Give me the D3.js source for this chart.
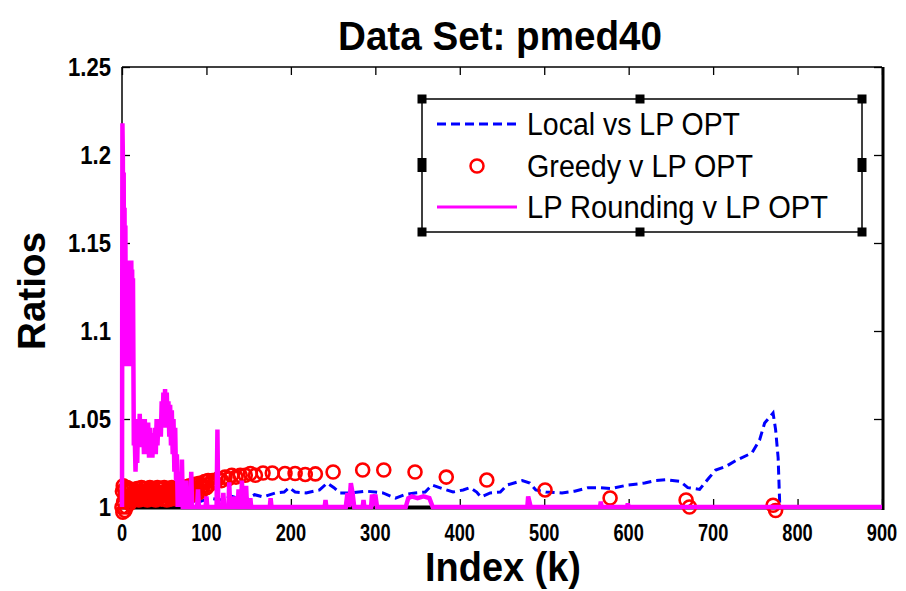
<!DOCTYPE html>
<html><head><meta charset="utf-8">
<script src="https://cdn.jsdelivr.net/npm/d3@7"></script>
<style>body{margin:0;background:#fff} svg{display:block} text{font-family:"Liberation Sans",Arial,sans-serif}</style>
</head><body><svg id="c" width="906" height="591"></svg>
<script>
// ---------- data ----------
const titleText = "Data Set: pmed40";
const xLabel = "Index (k)";
const yLabel = "Ratios";
const xTicks = [0,100,200,300,400,500,600,700,800,900];
const yTicks = [1,1.05,1.1,1.15,1.2,1.25];
const yTickLabels = ["1","1.05","1.1","1.15","1.2","1.25"];
const seriesNames = ["Local vs LP OPT","Greedy v LP OPT","LP Rounding v LP OPT"];

const localK = [0,9,27,45,69,92,104,118,130,146,
  157,167,182,192,198,205,218,234,243,251,
  258,270,289,309,324,335,347,359,367,376,
  392,404,412,420,425,436,448,456,474,483,
  490,502,521,536,552,566,580,599,619,632,
  645,661,670,684,695,703,715,728,746,755,
  761,771,774,777,779,900];
const localV = [1.0,1.006,1.004,1.005,1.004,1.003,1.005,1.004,1.006,1.004,
  1.007,1.0057,1.008,1.0085,1.011,1.0085,1.008,1.0097,1.0136,1.011,
  1.008,1.008,1.009,1.008,1.005,1.007,1.008,1.0085,1.0125,1.011,
  1.0085,1.0097,1.011,1.0085,1.0057,1.008,1.0085,1.0125,1.015,1.0136,
  1.0097,1.0085,1.008,1.009,1.011,1.011,1.0105,1.0125,1.0136,1.015,
  1.0155,1.0145,1.011,1.010,1.0165,1.021,1.023,1.0267,1.0307,1.038,
  1.0477,1.0534,1.044,1.028,1.0,1.0];

const greedyK = [0,0.5,1,1.5,2,3,3.5,4,5,6,
  7,8,9,10,11,12,13,14,15,16,
  17,18,19,20,21,22,23,24,25,26,
  27,28,29,30,31,32,33,34,35,36,
  37,38,39,40,41,42,43,44,45,46,
  47,48,49,50,51,52,53,54,55,56,
  57,58,59,60,61,62,63,64,65,66,
  67,68,69,70,71,72,73,74,75,76,
  77,78,79,80,81,82,83,84,85,86,
  87,88,89,90,92,94,96,98,100,102,
  104,107,110,114,118,122,126,130,135,140,
  146,152,158,167,178,193,205,217,229,250,
  285,310,347,384,432,501,578,668,672,771,
  774];
const greedyV = [1.0,1.009,0.997,1.012,1.003,1.010,0.998,1.006,1.0,1.011,
  1.004,1.009,1.002,1.007,1.010,1.004,1.008,1.005,1.009,1.006,
  1.005,1.0105,1.0075,1.004,1.009,1.006,1.011,1.0045,1.008,1.0065,
  1.0105,1.005,1.0085,1.004,1.0095,1.0065,1.011,1.005,1.008,1.0045,
  1.0105,1.0065,1.009,1.004,1.0075,1.011,1.005,1.0085,1.006,1.0105,
  1.0045,1.008,1.0065,1.011,1.005,1.009,1.004,1.0075,1.0105,1.006,
  1.0085,1.0045,1.011,1.0065,1.009,1.005,1.0105,1.0075,1.0045,1.009,
  1.0065,1.011,1.005,1.0085,1.007,1.0105,1.0055,1.009,1.007,1.0115,
  1.006,1.0095,1.0075,1.012,1.0065,1.010,1.008,1.0125,1.007,1.0105,
  1.0085,1.013,1.0075,1.011,1.0135,1.009,1.012,1.0145,1.011,1.015,
  1.013,1.015,1.014,1.016,1.015,1.017,1.016,1.018,1.017,1.018,
  1.018,1.019,1.018,1.0193,1.0193,1.019,1.019,1.0185,1.0188,1.0199,
  1.021,1.021,1.0199,1.017,1.0153,1.0097,1.0051,1.004,1.0,1.001,
  0.998];

const roundK = [0,0.5,1,1.5,2,2.5,3,3.5,4,4.5,
  5,5.5,6,6.5,7,7.5,8,8.5,9,9.5,
  10,10.5,11,11.5,12,12.5,13,14,15,16,
  17,18,19,20,21,22,23,24,25,26,
  27,28,29,30,31,32,33,34,35,36,
  37,38,39,40,41,42,43,44,45,46,
  47,48,49,50,51,52,53,54,55,56,
  57,58,59,60,61,62,63,64,65,66,
  67,68,69,70,71,72,75,76,77,81,
  82,83,89,90,91,99,100,101,112,113,
  114,119,120,121,126,127,128,132,133,134,
  137,138,139,141,142,143,146,147,148,151,
  152,153,175,176,177,240,241,242,265,267,
  269,271,273,275,285,286,287,295,296,298,
  300,302,336,339,343,350,357,364,368,480,
  481,484,566,567,568,598,599,600,900];
const roundV = [1.0,1.218,1.2,1.1,1.19,1.09,1.17,1.08,1.16,1.085,
  1.14,1.09,1.14,1.085,1.135,1.09,1.14,1.08,1.14,1.09,
  1.135,1.1,1.14,1.1,1.135,1.1,1.13,1.035,1.042,1.02,
  1.04,1.025,1.05,1.035,1.053,1.034,1.05,1.035,1.048,1.03,
  1.05,1.032,1.045,1.03,1.048,1.028,1.045,1.03,1.042,1.028,
  1.04,1.03,1.045,1.03,1.05,1.035,1.048,1.04,1.05,1.04,
  1.06,1.045,1.065,1.05,1.067,1.045,1.065,1.048,1.06,1.04,
  1.058,1.035,1.055,1.03,1.05,1.02,1.045,1.015,1.03,1.0,
  1.02,1.0,1.015,1.0,1.027,1.0,1.0,1.015,1.0,1.0,
  1.02,1.0,1.0,1.01,1.0,1.0,1.006,1.0,1.0,1.044,
  1.0,1.0,1.008,1.0,1.0,1.014,1.0,1.0,1.006,1.0,
  1.0,1.01,1.0,1.0,1.015,1.0,1.0,1.012,1.0,1.0,
  1.005,1.0,1.0,1.005,1.0,1.0,1.004,1.0,1.0,1.008,
  1.0,1.0136,1.008,1.0,1.0,1.004,1.0,1.0,1.007,1.004,
  1.007,1.0,1.0,1.005,1.006,1.005,1.006,1.005,1.0,1.0,
  1.006,1.0,1.0,1.003,1.0,1.0,1.002,1.0,1.0];

// ---------- layout ----------
const svg = d3.select("#c");
svg.append("rect").attr("width",906).attr("height",591).attr("fill","#fff");
const x = d3.scaleLinear().domain([0,900]).range([122,882]);
const y = d3.scaleLinear().domain([1,1.25]).range([507,67]);

function squeeze(sel, f){
  sel.each(function(){
    const w = this.getComputedTextLength();
    d3.select(this).attr("textLength", w*f).attr("lengthAdjust","spacingAndGlyphs");
  });
}

// axis box
const g = svg.append("g");
g.append("line").attr("x1",122).attr("x2",882).attr("y1",67).attr("y2",67).attr("stroke","#000").attr("stroke-width",1.5);
g.append("line").attr("x1",122).attr("x2",122).attr("y1",67).attr("y2",509).attr("stroke","#000").attr("stroke-width",1.5);
g.append("line").attr("x1",883).attr("x2",883).attr("y1",67).attr("y2",510).attr("stroke","#000").attr("stroke-width",3);
g.append("line").attr("x1",121).attr("x2",884).attr("y1",507.5).attr("y2",507.5).attr("stroke","#000").attr("stroke-width",4);

// ticks (inward) via d3 axes
const tl = 8;
const axB = g.append("g").attr("transform","translate(0,507)")
  .call(d3.axisTop(x).tickValues(xTicks).tickSize(tl).tickFormat(""));
const axT = g.append("g").attr("transform","translate(0,67)")
  .call(d3.axisBottom(x).tickValues(xTicks).tickSize(tl).tickFormat(""));
const axL = g.append("g").attr("transform","translate(122,0)")
  .call(d3.axisRight(y).tickValues(yTicks).tickSize(tl).tickFormat(""));
const axR = g.append("g").attr("transform","translate(882,0)")
  .call(d3.axisLeft(y).tickValues(yTicks).tickSize(tl).tickFormat(""));
[axB,axT,axL,axR].forEach(a=>{a.select(".domain").remove(); a.selectAll("line").attr("stroke","#000").attr("stroke-width",1.3);});

// tick labels
const xl = svg.append("g").selectAll("text").data(xTicks).join("text")
  .attr("x",d=>x(d)).attr("y",541).attr("text-anchor","middle")
  .attr("font-size",24).attr("font-weight","bold").attr("fill","#000").text(d=>d);
squeeze(xl,0.76);
const yl = svg.append("g").selectAll("text").data(yTicks).join("text")
  .attr("x",111).attr("y",d=>y(d)+9).attr("text-anchor","end")
  .attr("font-size",26).attr("font-weight","bold").attr("fill","#000").text((d,i)=>yTickLabels[i]);
squeeze(yl,0.85);

// series
const plot = svg.append("g");
const localData = localK.map((k,i)=>[k,localV[i]]);
const greedyData = greedyK.map((k,i)=>[k,greedyV[i]]);
const roundData = roundK.map((k,i)=>[k,roundV[i]]);
const line = d3.line().x(d=>x(d[0])).y(d=>y(d[1]));

plot.append("path").datum(localData).attr("d",line).attr("fill","none")
  .attr("stroke","#0000ff").attr("stroke-width",3).attr("stroke-dasharray","9,5");
plot.append("g").selectAll("circle").data(greedyData).join("circle")
  .attr("cx",d=>x(d[0])).attr("cy",d=>y(d[1])).attr("r",6.5)
  .attr("fill","none").attr("stroke","#ff0000").attr("stroke-width",2.6);
plot.append("path").datum(roundData).attr("d",line).attr("fill","none")
  .attr("stroke","#ff00ff").attr("stroke-width",4.5).attr("stroke-linejoin","miter");

// title & axis labels
svg.append("text").attr("x",500).attr("y",50).attr("text-anchor","middle")
  .attr("font-size",41).attr("font-weight","bold").attr("fill","#000").text(titleText)
  .attr("textLength",324).attr("lengthAdjust","spacingAndGlyphs");
svg.append("text").attr("x",503).attr("y",581).attr("text-anchor","middle")
  .attr("font-size",40).attr("font-weight","bold").attr("fill","#000").text(xLabel)
  .attr("textLength",156).attr("lengthAdjust","spacingAndGlyphs");
svg.append("text").attr("transform","translate(45,291) rotate(-90)").attr("text-anchor","middle")
  .attr("font-size",38).attr("font-weight","bold").attr("fill","#000").text(yLabel)
  .attr("textLength",118).attr("lengthAdjust","spacingAndGlyphs");

// legend
const lg = svg.append("g");
lg.append("rect").attr("x",422).attr("y",99).attr("width",440).attr("height",133)
  .attr("fill","#fff").attr("stroke","#000").attr("stroke-width",1.5);
const handles = [[422,99],[640,99],[862,99],[422,165],[862,165],[422,232],[640,232],[862,232]];
lg.selectAll("rect.h").data(handles).join("rect").attr("class","h")
  .attr("x",d=>d[0]-4.5).attr("y",(d,i)=>d[1]-(i===3||i===4?7:4.5))
  .attr("width",9).attr("height",(d,i)=>(i===3||i===4?14:9)).attr("fill","#000");
const rowY = [124,166,207];
lg.append("line").attr("x1",437).attr("x2",517).attr("y1",rowY[0]).attr("y2",rowY[0])
  .attr("stroke","#0000ff").attr("stroke-width",3).attr("stroke-dasharray","9,5");
lg.append("circle").attr("cx",477).attr("cy",rowY[1]).attr("r",6.5)
  .attr("fill","none").attr("stroke","#ff0000").attr("stroke-width",2.5);
lg.append("line").attr("x1",437).attr("x2",517).attr("y1",rowY[2]).attr("y2",rowY[2])
  .attr("stroke","#ff00ff").attr("stroke-width",3);
const lw = [213,226,301];
lg.selectAll("text").data(seriesNames).join("text")
  .attr("x",527).attr("y",(d,i)=>rowY[i]+11).attr("font-size",31).attr("fill","#000")
  .attr("textLength",(d,i)=>lw[i]).attr("lengthAdjust","spacingAndGlyphs").text(d=>d);
</script></body></html>
